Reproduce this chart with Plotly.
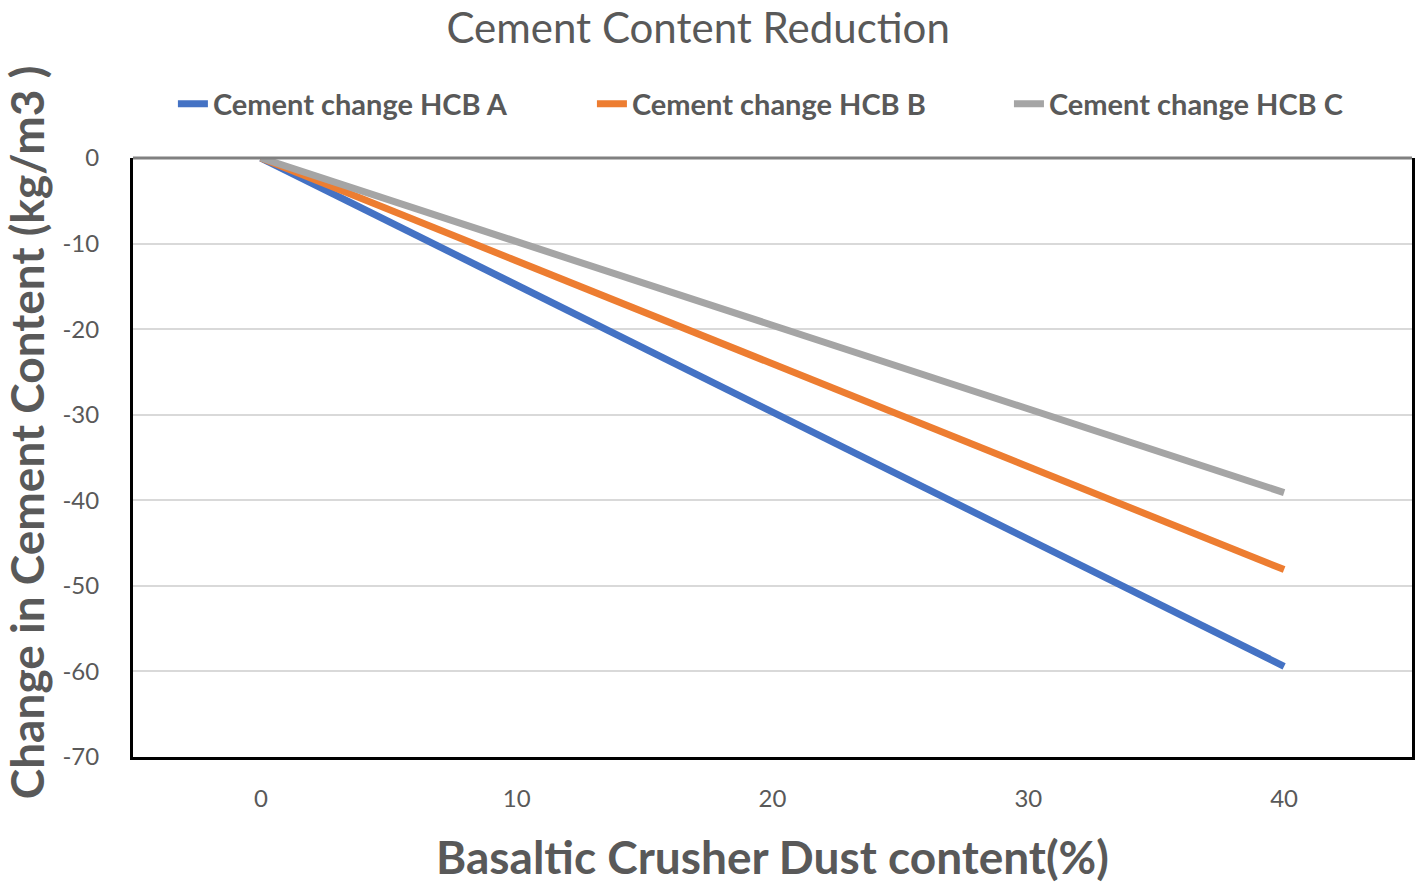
import plotly.graph_objects as go

dust_content = [0, 10, 20, 30, 40]
hcb_a = [0, -14.9, -29.7, -44.6, -59.4]
hcb_b = [0, -12.0, -24.0, -36.1, -48.1]
hcb_c = [0, -9.8, -19.6, -29.3, -39.1]
series_names = ["Cement change HCB A", "Cement change HCB B", "Cement change HCB C"]
colors = ["#4472C4", "#ED7D31", "#A5A5A5"]
y_ticks = [0, -10, -20, -30, -40, -50, -60, -70]
y_tick_text = ["0", "-10", "-20", "-30", "-40", "-50", "-60", "-70"]
x_ticks = [0, 10, 20, 30, 40]

FONT = "Lato"
GRAY = "#595959"
L, R, T, B = 133, 4, 158, 134
W, H = 1419, 891
PW, PH = W - L - R, H - T - B

legend_ids = ["legend", "legend2", "legend3"]
legend_text_px = [213, 633, 1051]

fig = go.Figure()
for name, ys, c, lg in zip(series_names, [hcb_a, hcb_b, hcb_c], colors, legend_ids):
    fig.add_trace(go.Scatter(x=dust_content, y=ys, mode="lines", name=name,
                             legend=lg, line=dict(color=c, width=7)))

legend_common = dict(orientation="h", xanchor="left", yanchor="middle",
                     y=1 + (T - 104) / PH,
                     font=dict(family=FONT, size=29, color=GRAY, weight="bold"),
                     bgcolor="rgba(0,0,0,0)")
layout_legends = {}
for lg, tx in zip(legend_ids, legend_text_px):
    layout_legends[lg] = dict(legend_common, x=(tx - 40 - L) / PW)

fig.update_layout(
    width=W, height=H,
    paper_bgcolor="white", plot_bgcolor="white",
    margin=dict(l=L, r=R, t=T, b=B),
    title=dict(text="Cement Content Reduction", x=0.492, xanchor="center",
               y=1 - 28 / H, yanchor="middle",
               font=dict(family=FONT, size=42, color=GRAY)),
    showlegend=True,
    **layout_legends,
)
fig.update_xaxes(range=[-5, 45], tickvals=x_ticks, showgrid=False, zeroline=False,
                 showline=True, linecolor="black", linewidth=3, mirror=False,
                 ticks="", tickfont=dict(family=FONT, size=24, color=GRAY),
                 ticklabelstandoff=18,
                 title=dict(text="Basaltic Crusher Dust content(%)", standoff=32,
                            font=dict(family=FONT, size=46, color=GRAY, weight="bold")))
fig.update_yaxes(range=[-70, 0], tickvals=y_ticks, ticktext=y_tick_text,
                 showgrid=True, gridcolor="#D9D9D9",
                 gridwidth=2, zeroline=False,
                 showline=True, linecolor="black", linewidth=3, mirror=True,
                 ticks="", tickfont=dict(family=FONT, size=24, color=GRAY),
                 ticklabelstandoff=26)
fig.add_annotation(text="<b>Change in Cement Content (kg/m3 )</b>", textangle=-90,
                   xref="paper", yref="paper", x=(27 - L) / PW, y=(H - B - 432) / PH,
                   xanchor="center", yanchor="middle", showarrow=False,
                   font=dict(family=FONT, size=46, color=GRAY))
# top border of plot area in gray
fig.add_shape(type="line", xref="paper", yref="paper", x0=0, x1=1, y0=1, y1=1,
              line=dict(color="#808080", width=3))

fig.write_html("out.html", config={"displayModeBar": False},
               post_script="document.body.style.margin='0';")
